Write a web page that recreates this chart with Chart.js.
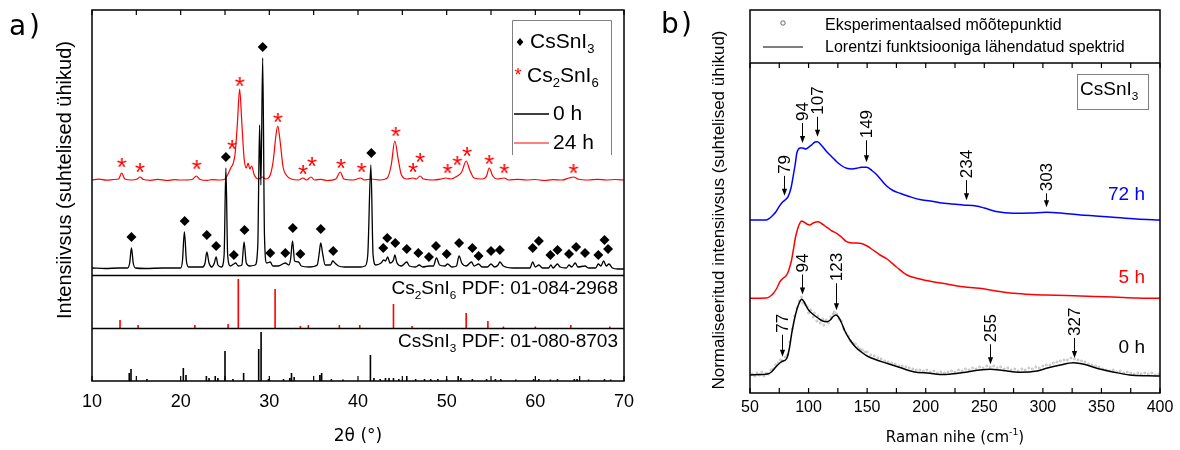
<!DOCTYPE html>
<html><head><meta charset="utf-8">
<script src="https://cdn.jsdelivr.net/npm/chart.js@4.4.1/dist/chart.umd.min.js"></script>
<style>
html,body{margin:0;padding:0;background:#fff;}
#wrap{position:relative;width:1180px;height:450px;overflow:hidden;}
canvas{position:absolute;top:0;}
#cA{left:0;width:640px;height:450px;}
#cB{left:640px;width:540px;height:450px;}
</style></head><body>
<div id="wrap"><canvas id="cA" width="640" height="450"></canvas><canvas id="cB" width="540" height="450"></canvas></div>
<script>
// ---------------- DATA: panel a) XRD ----------------
const xTicksA = [10,20,30,40,50,60,70];
const xMinorA = [15,25,35,45,55,65];
// 0 h pattern [2theta, intensity]
const xrd0h = [[10,7],[11.5,6.5],[13,7],[14.0,7],[14.25,12],[14.45,27],[14.65,12],[14.9,7],[16,6.5],[18,7],[20.0,7],[20.2,14],[20.42,43],[20.65,14],[20.9,8],[22.5,8],[22.75,12],[22.95,23],[23.2,12],[23.5,8],[23.8,12],[24.0,18],[24.2,10],[24.6,8],[24.9,20],[25.1,107],[25.3,20],[25.6,9],[26.0,11],[26.2,12],[26.5,9],[26.9,10],[27.15,33],[27.4,12],[27.8,9],[28.4,10],[28.7,30],[28.9,150],[29.05,90],[29.25,217],[29.45,40],[29.7,12],[30.1,13],[30.4,9],[31.0,9],[31.8,12],[32.2,10],[32.4,16],[32.62,34],[32.85,14],[33.3,13],[33.6,9],[34.5,8],[35.4,10],[35.6,20],[35.8,32],[36.0,22],[36.3,10],[36.9,10],[37.15,14],[37.4,12],[37.8,9],[38.5,8],[39.5,8],[40.3,8],[40.8,9],[41.1,20],[41.45,110],[41.7,20],[42.0,10],[42.6,12],[42.9,15],[43.1,14],[43.35,18],[43.6,12],[44.0,15],[44.15,20],[44.4,12],[44.9,9],[45.5,13],[45.8,9],[46.5,8],[46.9,10],[47.3,8],[48.0,9],[48.5,9],[48.85,17],[49.2,10],[49.8,9],[50.1,11],[50.6,8],[51.1,9],[51.4,19],[51.7,12],[52.2,9],[52.8,13],[53.1,9],[53.6,11],[54.0,8],[54.6,8],[55.0,11],[55.4,8],[55.8,10],[56.0,13],[56.4,9],[57.5,7],[58.5,7],[59.4,7],[59.7,13],[60.0,8],[60.4,10],[60.8,7],[61.5,7],[61.75,10],[62.0,7],[62.5,11],[62.8,8],[63.5,7],[63.8,10],[64.1,8],[64.5,12],[64.8,8],[65.6,9],[66.0,7],[66.8,7],[67.1,11],[67.4,9],[67.7,14],[68.0,9],[68.3,11],[68.7,7],[69.3,6],[70,6]];
// 24 h pattern
const xrd24h = [[10,95],[10.8,95.8],[11.6,94.8],[12.5,95.5],[13.0,96],[13.35,102],[13.7,96],[14.5,95],[15.1,96],[15.4,98],[15.8,95.5],[16.6,94.7],[17.4,95.6],[18.5,94.5],[19.3,95.4],[20,95],[21.3,95.5],[21.75,99],[22.2,95.5],[23.0,94.6],[23.5,95.4],[24.5,95],[25.0,96],[25.4,102],[25.7,108],[25.9,111],[26.15,122],[26.4,152],[26.65,186],[26.9,152],[27.15,117],[27.4,107],[27.6,112],[27.8,106],[28.0,109],[28.3,100],[28.8,96],[29.2,98],[29.6,96],[30.1,100],[30.45,115],[30.75,140],[30.95,149],[31.2,135],[31.55,108],[31.9,100],[32.5,96],[33.3,95],[33.8,97],[34.2,95],[34.7,98],[35.1,95],[35.8,95.7],[36.5,94.5],[37.5,96],[38.0,103],[38.4,96],[39.5,95],[40.3,97],[40.7,95],[41.5,96],[42.5,95],[43.3,97],[43.75,110],[44.15,134],[44.55,115],[44.9,100],[45.5,96],[46.2,97],[46.6,96],[47.0,99],[47.4,96],[48.5,95],[49.4,96],[49.9,97],[50.5,96],[51.2,99],[51.7,103],[52.2,114],[52.6,105],[53.1,97],[54.0,96],[54.5,99],[54.8,107],[55.2,99],[55.7,96],[56.5,97],[57,95],[58,95.6],[59,95],[60,95.5],[61,94.5],[62,95.4],[63,95],[63.8,97],[64.3,98],[64.8,96],[66,95],[67,95.6],[68,95],[69,95.5],[70,95]];
// phase markers
const cssni3Marks = [[14.45,38],[20.45,54],[22.95,40],[24.0,29],[25.1,118],[26.0,20],[27.2,45],[29.25,228],[30.1,22],[31.8,22],[32.65,47],[33.5,21],[35.8,46],[37.2,24],[41.5,122],[42.85,27],[43.3,37],[44.2,32],[45.5,26],[46.8,22],[48.0,18],[48.8,29],[50.0,21],[51.4,32],[52.9,27],[53.6,19],[55.0,24],[56.0,25],[59.7,27],[60.4,34],[61.7,20],[62.5,25],[63.8,21],[64.6,28],[65.6,22],[67.1,20],[67.8,35],[68.2,26]];
const cs2sni6Marks = [[13.35,112],[15.4,107],[21.8,110],[25.8,130],[26.65,193],[30.95,157],[33.8,105],[34.8,113],[38.07,111],[40.4,107],[44.25,143],[46.2,107],[47.0,117],[50.1,106],[51.2,114],[52.3,123],[54.8,115],[56.5,106],[64.3,106]];
// reference PDF sticks [2theta, height]
const pdfCs2SnI6 = [[13.16,8],[15.2,3],[21.6,3],[25.35,4],[26.5,49],[30.65,39],[33.5,2],[34.4,3],[37.9,3],[40.2,3],[44.0,24],[46.1,2],[52.2,15],[54.65,7],[56.4,1.5],[60.0,1.5],[64.0,3],[68.4,1.5]];
const pdfCsSnI3 = [[14.2,8],[14.4,12],[16.2,2],[20.3,13],[20.6,6],[22.9,5],[23.2,3],[23.9,5],[24.2,3],[25.0,30],[25.9,2],[27.1,8],[28.8,32],[29.07,49],[29.9,2],[31.6,2],[32.3,3],[32.5,8],[32.8,4],[35.7,6],[35.9,8],[37.0,2],[38.3,1.5],[41.4,26],[41.8,3],[42.5,2],[43.1,3],[43.5,3],[44.0,3],[44.6,2],[45.5,5],[46.5,2],[47.5,2],[48.2,2],[49.0,2],[50.0,2],[51.3,5],[51.6,3],[52.9,2],[54.5,2],[55.5,2],[56.1,2],[57.8,1.5],[59.8,2],[60.4,2],[61.7,1.5],[62.5,2],[64.4,2],[64.7,2],[66.0,1.5],[67.8,2],[68.5,1.5]];

// ---------------- DATA: panel b) Raman ----------------
const ramanTicks = [50,100,150,200,250,300,350,400];
const ramanMinor = [75,125,175,225,275,325,375];
const raman72h = [[50,173],[60,173],[64,173],[67,175],[69.7,178],[72,181],[74.8,186.3],[78,191.3],[80,193],[82.5,196.3],[85,205],[86.8,216.3],[88.5,228],[90,240],[91.5,244],[93,245],[95,245],[97.5,244],[100,245.7],[103,248.5],[105.5,251],[107.5,251.3],[110,249],[115.5,241.3],[120,236],[124,231.3],[128,227.5],[132.5,224.7],[137,224],[141,224.7],[145,225.7],[149.6,225.7],[154,222.5],[158,218.5],[162,213],[166.7,207],[172,202.5],[178,199.7],[186,196.5],[195,193.5],[204,192],[212,190.3],[222,189],[232,188],[243,187],[250,185],[260,181.5],[275,179.7],[290,180],[303,180.7],[315,180],[332,178],[345,177],[360,175.7],[380,174],[400,173]];
const raman5h = [[50,94.7],[64,95],[67,96.5],[70,99.7],[73,105],[75.6,111.3],[78,114.5],[80,116.3],[82,119.5],[84,126.3],[85.5,133],[87,143],[88.7,155],[90.4,163],[92,168.5],[94,172],[96,171],[98.5,169],[101,168],[104,170],[108,171.3],[111,169.5],[114,167],[117,164.7],[120,162],[124,159.7],[128,156],[132.5,151.3],[138,150],[144,149.7],[150,147],[155,143],[161,138],[167,134],[175,126],[184,118],[195,114],[205,111.5],[218,109],[230,106.5],[246,104.7],[260,102],[275,99.7],[290,98.5],[303,98],[320,97.5],[332,97],[360,96],[380,95],[400,94.7]];
const raman0h = [[50,18],[60,18.5],[65,19],[68.5,21.3],[72.8,27],[77,31.3],[81.3,34.5],[83.5,44],[85.6,59.7],[87.8,73],[89.9,83],[92,90],[94.1,93.7],[96,91.5],[98,87],[100,83],[104,78.5],[108,75],[112,72],[115.5,71.3],[118.5,73],[121,76.5],[123.4,78],[125.5,76],[128,70.5],[131,62],[135.4,53],[140,46],[145,41],[150,37],[157,33.5],[166.7,29.7],[178,25.5],[189.5,21.3],[203.6,19.7],[212,18.5],[220,18.7],[232,20.5],[246,23],[255,23.7],[266,22.5],[280.5,20.7],[295,22],[303,24.7],[315,28],[326,30.3],[336,28.5],[346,24.7],[360,21],[374,18],[390,17.2],[400,17]];
const ramanExp0h = [[52,19],[54,17],[56,20],[58,18],[60,21],[62,17],[64,20],[66,19],[68,23],[70,24],[72,28],[74,30],[76,33],[78,32],[80,36],[82,38],[84,51],[86,64],[88,77],[90,85],[92,92],[94,96],[95,90],[97,88],[99,86],[100,80],[102,83],[104,76],[105,80],[107,72],[108,77],[110,70],[112,74],[113,68],[115,73],[117,70],[119,76],[121,79],[122,81],[124,79],[126,74],[128,72],[130,64],[132,60],[134,57],[136,52],[138,50],[140,49],[142,46],[144,44],[146,43],[148,41],[150,41],[153,38],[156,37],[159,35],[162,34],[165,32],[168,31],[171,30],[174,29],[177,27],[180,27],[183,26],[186,25],[189,24],[192,23],[195,23],[198,22],[201,23],[204,21],[207,22],[210,20],[213,21],[216,20],[219,21],[222,22],[225,21],[228,23],[231,22],[234,24],[237,23],[240,25],[243,24],[246,26],[249,25],[252,27],[255,26],[258,27],[261,25],[264,26],[267,24],[270,25],[273,23],[276,24],[279,22],[282,24],[285,23],[288,25],[291,24],[294,26],[297,25],[300,27],[303,28],[306,28],[309,30],[312,31],[315,32],[318,33],[321,33],[324,35],[327,34],[330,33],[333,32],[336,31],[339,29],[342,28],[345,27],[348,26],[351,24],[354,23],[357,22],[360,23],[363,21],[366,22],[369,20],[372,21],[375,20],[378,19],[381,20],[384,19],[387,20],[390,19],[393,20],[396,18],[399,19]];
const ramanPeakLabels = ['79','94','107','149','234','303','77','94','123','255','327'];
const ramanPeakPos    = [79,94,107,149,234,303,77,94,123,255,327];
const ramanPeakSeries = ['72h','72h','72h','72h','72h','72h','0h','0h','0h','0h','0h'];

// ---------------- helpers ----------------
const SANS = '"Liberation Sans", Arial, sans-serif';
const DEJA = '"DejaVu Sans", Verdana, sans-serif';
const MAIN_OFF = 106, PDF6_OFF = 53, PDF3_OFF = 0;
const pts = (arr, off=0) => arr.map(([x,v]) => ({x, y: v + off}));
function sticks(list, off){ const d=[]; list.forEach(([x,h])=>{ d.push({x,y:off},{x,y:off+h},{x,y:null}); }); return d; }
function interp(arr, x){ for(let i=0;i<arr.length-1;i++){ const [x0,y0]=arr[i],[x1,y1]=arr[i+1]; if(x>=x0&&x<=x1) return y0+(y1-y0)*(x-x0)/(x1-x0);} return arr[arr.length-1][1]; }
function drawRich(ctx, parts, x, y, size, align, color, family){
  ctx.fillStyle = color; ctx.textBaseline = 'middle';
  let w = 0;
  parts.forEach(([t,k]) => { ctx.font = (k? size*0.62 : size) + 'px ' + family; w += ctx.measureText(t).width; });
  let cx = align==='right' ? x - w : align==='center' ? x - w/2 : x;
  ctx.textAlign = 'left';
  parts.forEach(([t,k]) => {
    ctx.font = (k? size*0.62 : size) + 'px ' + family;
    const dy = k==='sub' ? size*0.33 : k==='sup' ? -size*0.33 : 0;
    ctx.fillText(t, cx, y + dy); cx += ctx.measureText(t).width;
  });
}
function makeAsterisk(size, color){
  const c = document.createElement('canvas'); c.width = c.height = 22;
  const g = c.getContext('2d'); g.font = size + 'px ' + SANS; g.fillStyle = color; g.textAlign='center';
  const m = g.measureText('*');
  g.fillText('*', 11, 11 + (m.actualBoundingBoxAscent - m.actualBoundingBoxDescent)/2);
  return c;
}
function diamond(ctx, x, y, r){ ctx.beginPath(); ctx.moveTo(x, y-r); ctx.lineTo(x+r*0.85, y); ctx.lineTo(x, y+r); ctx.lineTo(x-r*0.85, y); ctx.closePath(); ctx.fill(); }

// ---------------- Chart a) ----------------
const astImg = makeAsterisk(26, '#ff0000');
const decoA = {
  id: 'decoA',
  afterDraw(chart){
    const {ctx, chartArea:a, scales:{x, y}} = chart;
    ctx.save();
    ctx.strokeStyle = '#000'; ctx.lineWidth = 1.5;
    [MAIN_OFF, PDF6_OFF].forEach(v => { const py = Math.round(y.getPixelForValue(v)) + 0.5; ctx.beginPath(); ctx.moveTo(a.left, py); ctx.lineTo(a.right, py); ctx.stroke(); });
    ctx.strokeRect(a.left, a.top, a.width, a.height);
    ctx.lineWidth = 1.2;
    xTicksA.concat(xMinorA).forEach(v => {
      const px = x.getPixelForValue(v);
      ctx.beginPath(); ctx.moveTo(px, a.bottom); ctx.lineTo(px, a.bottom - 5); ctx.moveTo(px, a.top); ctx.lineTo(px, a.top + 5); ctx.stroke();
    });
    ctx.fillStyle = '#000'; ctx.font = '18px ' + SANS; ctx.textAlign = 'center'; ctx.textBaseline = 'middle';
    xTicksA.forEach(v => ctx.fillText(String(v), x.getPixelForValue(v), 402));
    // axis titles
    ctx.font = '17px ' + DEJA; ctx.fillText('2θ (°)', (a.left + a.right)/2, 437);
    ctx.save(); ctx.translate(65, 180); ctx.rotate(-Math.PI/2); ctx.font = '20px ' + SANS; ctx.fillText('Intensiivsus (suhtelised ühikud)', 0, 0); ctx.restore();
    // panel label
    ctx.font = '28px ' + DEJA; ctx.textAlign = 'left'; ctx.fillText('a', 9, 28); ctx.fillText(')', 29, 28);
    // PDF labels
    drawRich(ctx, [['Cs',''],['2','sub'],['SnI',''],['6','sub'],[' PDF: 01-084-2968','']], 618, 289, 19, 'right', '#000', SANS);
    drawRich(ctx, [['CsSnI',''],['3','sub'],[' PDF: 01-080-8703','']], 618, 342, 19, 'right', '#000', SANS);
    // legend
    ctx.strokeStyle = '#808080'; ctx.lineWidth = 1;
    ctx.beginPath(); ctx.moveTo(512.5, 155); ctx.lineTo(512.5, 20.5); ctx.lineTo(611.5, 20.5); ctx.lineTo(611.5, 155); ctx.stroke();
    ctx.fillStyle = '#000'; diamond(ctx, 520, 42, 4);
    drawRich(ctx, [['CsSnI',''],['3','sub']], 530, 42, 21, 'left', '#000', SANS);
    ctx.fillStyle = '#ff0000'; ctx.font = '18px ' + SANS; ctx.textAlign='center';
    const m = ctx.measureText('*'); ctx.textBaseline='alphabetic';
    ctx.fillText('*', 518, 76 + (m.actualBoundingBoxAscent - m.actualBoundingBoxDescent)/2);
    drawRich(ctx, [['Cs',''],['2','sub'],['SnI',''],['6','sub']], 527, 76, 21, 'left', '#000', SANS);
    ctx.strokeStyle = '#000'; ctx.lineWidth = 1.5; ctx.beginPath(); ctx.moveTo(514, 114); ctx.lineTo(549, 114); ctx.stroke();
    ctx.strokeStyle = '#ff0000'; ctx.lineWidth = 1; ctx.beginPath(); ctx.moveTo(514, 143); ctx.lineTo(549, 143); ctx.stroke();
    drawRich(ctx, [['0 h','']], 553, 114, 21, 'left', '#000', SANS);
    drawRich(ctx, [['24 h','']], 553, 143, 21, 'left', '#000', SANS);
    ctx.restore();
  }
};
new Chart(document.getElementById('cA'), {
  type: 'line',
  data: { datasets: [
    { data: pts(xrd24h, MAIN_OFF), borderColor: '#ff0000', borderWidth: 1.2, pointRadius: 0, cubicInterpolationMode: 'monotone', order: 6 },
    { data: pts(xrd0h, MAIN_OFF), borderColor: '#000', borderWidth: 1.3, pointRadius: 0, cubicInterpolationMode: 'monotone', order: 5 },
    { data: sticks(pdfCs2SnI6, PDF6_OFF), borderColor: '#ff0000', borderWidth: 1.6, pointRadius: 0, spanGaps: false, order: 4 },
    { data: sticks(pdfCsSnI3, PDF3_OFF), borderColor: '#000', borderWidth: 1.6, pointRadius: 0, spanGaps: false, order: 4 },
    { data: pts(cssni3Marks, MAIN_OFF), showLine: false, pointStyle: 'rectRot', pointRadius: 5, backgroundColor: '#000', borderColor: '#000', borderWidth: 0, order: 2 },
    { data: pts(cs2sni6Marks, MAIN_OFF), showLine: false, pointStyle: astImg, pointRadius: 5, order: 1 }
  ]},
  options: {
    responsive: false, animation: false, events: [],
    layout: { padding: { left: 92, right: 16, top: 10, bottom: 69 } },
    scales: { x: { type: 'linear', min: 10, max: 70, display: false }, y: { type: 'linear', min: 0, max: 371, display: false } },
    plugins: { legend: { display: false }, tooltip: { enabled: false } }
  },
  plugins: [decoA]
});

// ---------------- Chart b) ----------------
const seriesMap = { '72h': raman72h, '5h': raman5h, '0h': raman0h };
const arrowLen = { '123': 27, '303': 14, '77': 22, '149': 22 };
const decoB = {
  id: 'decoB',
  afterDraw(chart){
    const {ctx, chartArea:a, scales:{x, y}} = chart;
    ctx.save();
    ctx.strokeStyle = '#000'; ctx.lineWidth = 1.5;
    ctx.strokeRect(a.left, 10, a.width, a.bottom - 10);
    ctx.beginPath(); ctx.moveTo(a.left, a.top); ctx.lineTo(a.right, a.top); ctx.stroke();
    ctx.lineWidth = 1.2;
    ramanTicks.concat(ramanMinor).forEach(v => {
      const px = x.getPixelForValue(v);
      ctx.beginPath(); ctx.moveTo(px, a.bottom); ctx.lineTo(px, a.bottom - 5); ctx.moveTo(px, a.top); ctx.lineTo(px, a.top + 5); ctx.stroke();
    });
    ctx.fillStyle = '#000'; ctx.font = '16px ' + SANS; ctx.textAlign = 'center'; ctx.textBaseline = 'middle';
    ramanTicks.forEach(v => ctx.fillText(String(v), x.getPixelForValue(v), 408));
    drawRich(ctx, [['Raman nihe (cm',''],['-1','sup'],[')','']], (a.left + a.right)/2, 438, 15, 'center', '#000', DEJA);
    ctx.save(); ctx.translate(79, 210); ctx.rotate(-Math.PI/2); ctx.font = '17px ' + SANS; ctx.textAlign='center'; ctx.fillStyle='#000'; ctx.fillText('Normaliseeritud intensiivsus (suhtelised ühikud)', 0, 0); ctx.restore();
    ctx.fillStyle='#000'; ctx.font = '28px ' + DEJA; ctx.textAlign = 'left'; ctx.textBaseline='middle'; ctx.fillText('b', 21, 26); ctx.fillText(')', 41, 26);
    // legend
    ctx.strokeStyle = '#444'; ctx.lineWidth = 0.8; ctx.beginPath(); ctx.arc(143, 23, 2.2, 0, Math.PI*2); ctx.stroke();
    ctx.strokeStyle = '#000'; ctx.lineWidth = 1; ctx.beginPath(); ctx.moveTo(123, 47); ctx.lineTo(163, 47); ctx.stroke();
    drawRich(ctx, [['Eksperimentaalsed mõõtepunktid','']], 185, 26, 16, 'left', '#000', SANS);
    drawRich(ctx, [['Lorentzi funktsiooniga lähendatud spektrid','']], 185, 48, 16, 'left', '#000', SANS);
    // compound box
    ctx.strokeStyle = '#808080'; ctx.lineWidth = 1; ctx.strokeRect(437.5, 74.5, 71, 35);
    drawRich(ctx, [['CsSnI',''],['3','sub']], 440, 90, 19, 'left', '#000', SANS);
    // series labels
    drawRich(ctx, [['72 h','']], 505, 195, 19, 'right', '#0000ff', SANS);
    drawRich(ctx, [['5 h','']], 505, 278, 19, 'right', '#ff0000', SANS);
    drawRich(ctx, [['0 h','']], 505, 348, 19, 'right', '#000', SANS);
    // peak annotations
    ctx.strokeStyle = '#000'; ctx.fillStyle = '#000'; ctx.lineWidth = 1;
    ramanPeakLabels.forEach((t, i) => {
      const xv = ramanPeakPos[i];
      const px = Math.round(x.getPixelForValue(xv)) + 0.5;
      const tip = y.getPixelForValue(interp(seriesMap[ramanPeakSeries[i]], xv)) - 5;
      const len = arrowLen[t] || 20;
      ctx.beginPath(); ctx.moveTo(px, tip - len); ctx.lineTo(px, tip - 5); ctx.stroke();
      ctx.beginPath(); ctx.moveTo(px, tip); ctx.lineTo(px - 2.6, tip - 7); ctx.lineTo(px + 2.6, tip - 7); ctx.closePath(); ctx.fill();
      ctx.save(); ctx.translate(px, tip - len - 2); ctx.rotate(-Math.PI/2);
      ctx.font = '17px ' + SANS; ctx.textAlign = 'left'; ctx.textBaseline = 'middle'; ctx.fillText(t, 0, 1);
      ctx.restore();
    });
    ctx.restore();
  }
};
new Chart(document.getElementById('cB'), {
  type: 'line',
  data: { datasets: [
    { data: pts(ramanExp0h), showLine: false, pointStyle: 'circle', pointRadius: 1, borderColor: 'rgba(110,110,110,0.7)', borderWidth: 0.6, backgroundColor: 'rgba(0,0,0,0)', order: 5 },
    { data: pts(raman72h), borderColor: '#0000ff', borderWidth: 1.5, pointRadius: 0, cubicInterpolationMode: 'monotone', order: 1 },
    { data: pts(raman5h), borderColor: '#ff0000', borderWidth: 1.5, pointRadius: 0, cubicInterpolationMode: 'monotone', order: 1 },
    { data: pts(raman0h), borderColor: '#000', borderWidth: 1.5, pointRadius: 0, cubicInterpolationMode: 'monotone', order: 1 }
  ]},
  options: {
    responsive: false, animation: false, events: [],
    layout: { padding: { left: 110, right: 20, top: 63, bottom: 57 } },
    scales: { x: { type: 'linear', min: 50, max: 400, display: false }, y: { type: 'linear', min: 0, max: 330, display: false } },
    plugins: { legend: { display: false }, tooltip: { enabled: false } }
  },
  plugins: [decoB]
});
</script>
</body></html>
